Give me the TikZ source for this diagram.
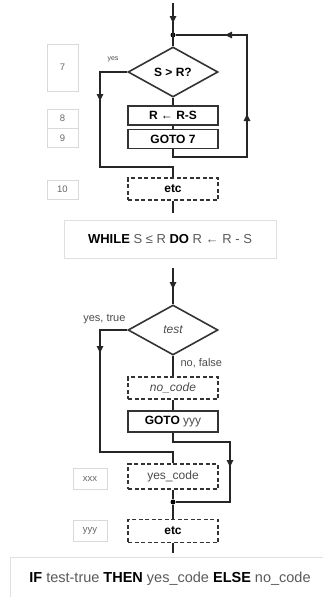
\documentclass[tikz,border=0pt]{standalone}
\usepackage{fontspec}
\setmainfont{Liberation Sans}
\usetikzlibrary{shapes,arrows.meta,positioning,calc,decorations.markings}

\tikzset{
    flow/.style={line width=1.6pt, draw=black!85},
    tip/.style={flow, -{Triangle[length=7pt,width=6.5pt]}},
    stmt/.style={draw=black!80, line width=1.6pt, minimum width=90pt, minimum height=19pt, inner sep=0pt, font=\fontsize{12}{13}\selectfont\bfseries},
    dstmt/.style={stmt, dashed, dash pattern=on 4pt off 2.5pt},
    decision/.style={draw=black!80, line width=1.6pt, diamond, minimum width=90pt, minimum height=50pt, inner sep=0pt, font=\fontsize{12}{13}\selectfont},
    lineno/.style={draw=black!15, line width=0.7pt, minimum width=31pt, minimum height=19pt, inner sep=0pt, text=black!60, font=\fontsize{9.5}{10}\selectfont},
    caption/.style={draw=black!12, line width=0.7pt, inner sep=0pt, font=\fontsize{13}{14}\selectfont, text=black!65},
    junction/.style={circle, fill=black, inner sep=0pt, minimum size=5pt},
    small/.style={font=\fontsize{11}{12}\selectfont, text=black!70}
}

\begin{document}
\begin{tikzpicture}[x=1pt, y=-1pt]
    \useasboundingbox (0,0) rectangle (323,597);

    % WHILE loop
    \coordinate (in1) at (173,3);
    \node[junction] (j1) at (173,35) {};
    \node[decision] (cmp) at (173,72) {\bfseries S > R?};
    \node[stmt] (sub) at (173,115.5) {R ← R-S};
    \node[stmt] (go7) at (173,139) {GOTO 7};
    \node[dstmt, minimum height=22pt] (etc1) at (173,189) {etc};
    \coordinate (out1) at (173,213);

    % line numbers
    \node[lineno, minimum height=47pt] (n7) at (62.5,67.5) {7};
    \node[lineno] (n8) at (62.5,118.5) {8};
    \node[lineno] (n9) at (62.5,138) {9};
    \node[lineno] (n10) at (62.5,189.5) {10};

    \draw[flow] (in1) -- (cmp.north);
    \draw[tip] (in1) -- (173,23);
    \draw[flow] (cmp.south) -- (sub.north);
    \draw[flow] (sub.south) -- (go7.north);
    \draw[flow] (cmp.west) -- (100,72) -- (100,167) -| (etc1.north);
    \draw[tip] (100,72) -- (100,101);
    \draw[flow] (go7.south) |- (247,157) |- (j1);
    \draw[tip] (247,157) -- (247,114);
    \draw[tip] (247,35) -- (225,35);
    \draw[flow] (etc1.south) -- (out1);
    \node[small, font=\fontsize{7}{8}\selectfont] (yes1) at (113,59) {yes};

    \node[caption, minimum width=212pt, minimum height=38pt] (cap1) at (170,239)
        {\textcolor{black}{\bfseries WHILE} S ≤ R \textcolor{black}{\bfseries DO} R ← R - S};

    % IF THEN ELSE
    \coordinate (in2) at (173,268);
    \node[decision] (test) at (173,330) {\itshape\color{black!70}test};
    \node[dstmt, minimum height=22pt, font=\fontsize{12}{13}\selectfont\itshape] (nocode) at (173,388) {\color{black!70}no\_code};
    \node[stmt, minimum height=21pt] (goy) at (173,421.5) {GOTO \mdseries\color{black!70}yyy};
    \node[dstmt, minimum height=25pt, font=\fontsize{12}{13}\selectfont] (yescode) at (173,476.5) {\color{black!70}yes\_code};
    \node[junction] (j2) at (173,502) {};
    \node[dstmt, minimum height=23pt] (etc2) at (173,531) {etc};
    \coordinate (out2) at (173,553);

    \node[lineno, minimum width=34pt, minimum height=21pt] (xxx) at (90,479) {xxx};
    \node[lineno, minimum width=34pt, minimum height=21pt] (yyy) at (90,531) {yyy};

    \draw[flow] (in2) -- (test.north);
    \draw[tip] (in2) -- (173,289);
    \draw[flow] (test.west) -- (100,330) -- (100,452) -| (yescode.north);
    \draw[tip] (100,330) -- (100,353);
    \draw[flow] (test.south) -- (nocode.north);
    \draw[flow] (nocode.south) -- (goy.north);
    \draw[flow] (goy.south) |- (230,442) |- (j2);
    \draw[tip] (230,442) -- (230,467);
    \draw[flow] (yescode.south) -- (j2) -- (etc2.north);
    \draw[flow] (etc2.south) -- (out2);
    \node[small, anchor=east] (yes2) at (129,319) {yes, true};
    \node[small, anchor=west] (no2) at (177,363) {no, false};

    \node[caption, minimum width=320pt, minimum height=44pt, font=\fontsize{14.5}{15}\selectfont] (cap2) at (170,579)
        {\textcolor{black}{\bfseries IF} test-true \textcolor{black}{\bfseries THEN} yes\_code \textcolor{black}{\bfseries ELSE} no\_code};
\end{tikzpicture}
\end{document}
